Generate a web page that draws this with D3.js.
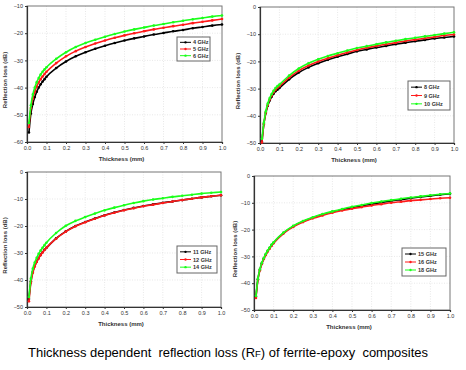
<!DOCTYPE html>
<html>
  <head>
    <meta charset="utf-8" />
    <title>Reflection loss</title>
    <script src="https://d3js.org/d3.v7.min.js"></script>
    <style>
      body { margin: 0; background: #fff; }
      text { font-family: "Liberation Sans", Arial, sans-serif; }
    </style>
  </head>
  <body>
    <div id="chart"></div>
    <script>
      // thickness (mm) where values were read
      var thickness = [0.01, 0.02, 0.03, 0.04, 0.05, 0.06, 0.07, 0.08, 0.09, 0.1,
        0.15, 0.2, 0.25, 0.3, 0.35, 0.4, 0.45, 0.5, 0.55, 0.6, 0.65, 0.7, 0.75,
        0.8, 0.85, 0.9, 0.95, 1.0];

      // panel 1
      var rl4 = [-56.5, -49.5, -46, -43.5, -41.5, -40, -38.8, -37.8, -36.9, -36, -32.8, -30.4, -28.5, -27, -25.7, -24.6, -23.6, -22.7, -21.9, -21.2, -20.5, -19.9, -19.3, -18.8, -18.2, -17.7, -17.2, -16.8];
      var rl5 = [-54.5, -47.5, -44, -41.5, -39.6, -38.1, -36.9, -35.9, -35, -34.2, -31, -28.5, -26.6, -25.1, -23.8, -22.7, -21.7, -20.8, -20, -19.3, -18.6, -18, -17.4, -16.9, -16.3, -15.8, -15.3, -14.8];
      var rl6 = [-53, -46.5, -42.5, -40, -38, -36.5, -35.2, -34.2, -33.3, -32.5, -29.4, -27, -25.1, -23.6, -22.4, -21.3, -20.3, -19.4, -18.6, -17.9, -17.2, -16.6, -16, -15.4, -14.9, -14.4, -13.9, -13.5];
      // panel 2
      var rl8 = [-49.6, -43, -39, -36.3, -34.4, -33, -31.9, -31, -30.4, -29.8, -26.6, -24.1, -22.2, -20.7, -19.4, -18.3, -17.3, -16.3, -15.6, -14.9, -14.3, -13.7, -13.1, -12.6, -12.1, -11.6, -11.2, -10.8];
      var rl9 = [-49.8, -43, -38.8, -36, -34, -32.5, -31.3, -30.4, -29.7, -29.1, -26, -23.4, -21.5, -20, -18.8, -17.7, -16.7, -15.8, -15, -14.3, -13.7, -13.1, -12.5, -12, -11.5, -11, -10.5, -10.1];
      var rl10 = [-48.4, -42.5, -38.3, -35.5, -33.5, -32, -30.8, -29.8, -29.1, -28.5, -25.2, -22.6, -20.7, -19.2, -18, -17, -16, -15.1, -14.4, -13.7, -13, -12.4, -11.8, -11.3, -10.8, -10.3, -9.8, -9.3];
      // panel 3
      var rl11 = [-47, -40.5, -37, -34.8, -33.2, -31.9, -30.7, -29.7, -28.8, -28.1, -24.6, -22, -20, -18.5, -17.2, -16, -15, -14.1, -13.3, -12.6, -12, -11.4, -10.9, -10.4, -9.9, -9.4, -9, -8.6];
      var rl12 = [-47.9, -41, -37.3, -35, -33.3, -32, -30.8, -29.8, -28.9, -28.1, -24.7, -22.1, -20.1, -18.6, -17.3, -16.1, -15.1, -14.2, -13.4, -12.7, -12.1, -11.5, -10.9, -10.4, -9.9, -9.4, -9, -8.6];
      var rl14 = [-46.3, -39.5, -35.8, -33.5, -31.8, -30.3, -29.1, -28.1, -27.1, -26.2, -22.6, -19.9, -18.1, -16.7, -15.4, -14.2, -13.2, -12.3, -11.5, -10.8, -10.2, -9.7, -9.2, -8.8, -8.4, -8, -7.7, -7.4];
      // panel 4
      var rl15 = [-45, -38.5, -35, -32.6, -30.8, -29.3, -28, -26.9, -25.8, -24.9, -21.3, -18.8, -17, -15.6, -14.4, -13.4, -12.6, -11.8, -11.1, -10.5, -9.9, -9.3, -8.8, -8.3, -7.8, -7.4, -7, -6.6];
      var rl16 = [-45.5, -38.8, -35.2, -32.8, -31, -29.5, -28.2, -27.1, -26, -25.1, -21.5, -19, -17.2, -15.8, -14.7, -13.7, -12.9, -12.2, -11.6, -11, -10.5, -10, -9.6, -9.2, -8.9, -8.6, -8.3, -8.1];
      var rl18 = [-44.8, -38.3, -34.8, -32.4, -30.6, -29.1, -27.8, -26.7, -25.6, -24.7, -21.1, -18.6, -16.8, -15.4, -14.2, -13.2, -12.3, -11.5, -10.8, -10.1, -9.5, -9, -8.5, -8, -7.6, -7.2, -6.8, -6.5];

      var legend1 = ["4 GHz", "5 GHz", "6 GHz"];
      var legend2 = ["8 GHz", "9 GHz", "10 GHz"];
      var legend3 = ["11 GHz", "12 GHz", "14 GHz"];
      var legend4 = ["15 GHz", "16 GHz", "18 GHz"];

      var xTicks = [0, 0.1, 0.2, 0.3, 0.4, 0.5, 0.6, 0.7, 0.8, 0.9, 1.0];
      var yTicks1 = [-60, -50, -40, -30, -20, -10];
      var yTicks = [-50, -40, -30, -20, -10, 0];

      var colors = ["#000000", "#ff1a1a", "#1aff1a"];

      var panels = [
        { series: [rl4, rl5, rl6], names: legend1, yDomain: [-60, -10], yTicks: yTicks1,
          left: 27, right: 222, top: 6, bottom: 142, legend: [177, 37, 33, 24], yTitleX: 7 },
        { series: [rl8, rl9, rl10], names: legend2, yDomain: [-50, 0], yTicks: yTicks,
          left: 260, right: 454, top: 7, bottom: 143, legend: [408, 81, 42, 29], yTitleX: 240 },
        { series: [rl11, rl12, rl14], names: legend3, yDomain: [-50, 0], yTicks: yTicks,
          left: 27, right: 221, top: 172, bottom: 307, legend: [177, 246, 40, 27], yTitleX: 7 },
        { series: [rl15, rl16, rl18], names: legend4, yDomain: [-50, 0], yTicks: yTicks,
          left: 254, right: 450, top: 176, bottom: 310, legend: [402, 248, 44, 28], yTitleX: 237 }
      ];

      var svg = d3.select("#chart").append("svg")
        .attr("width", 466).attr("height", 370)
        .style("background", "#fff");

      panels.forEach(function (p) {
        var x = d3.scaleLinear().domain([0, 1]).range([p.left, p.right]);
        var y = d3.scaleLinear().domain(p.yDomain).range([p.bottom, p.top]);
        var g = svg.append("g");

        // grid
        g.selectAll(".vg").data(xTicks.slice(1, -1)).enter().append("line")
          .attr("x1", function (d) { return x(d); }).attr("x2", function (d) { return x(d); })
          .attr("y1", p.top).attr("y2", p.bottom)
          .attr("stroke", "#d8d8d8").attr("stroke-width", 0.6).attr("stroke-dasharray", "1,1.5");
        g.selectAll(".hg").data(p.yTicks.slice(1, -1)).enter().append("line")
          .attr("y1", function (d) { return y(d); }).attr("y2", function (d) { return y(d); })
          .attr("x1", p.left).attr("x2", p.right)
          .attr("stroke", "#d8d8d8").attr("stroke-width", 0.6).attr("stroke-dasharray", "1,1.5");

        // frame
        g.append("rect").attr("x", p.left).attr("y", p.top)
          .attr("width", p.right - p.left).attr("height", p.bottom - p.top)
          .attr("fill", "none").attr("stroke", "#777").attr("stroke-width", 1);

        var xAxis = g.append("g").attr("transform", "translate(0," + p.bottom + ")")
          .call(d3.axisBottom(x).tickValues(xTicks).tickFormat(d3.format(".1f")).tickSize(2).tickPadding(2));
        var yAxis = g.append("g").attr("transform", "translate(" + p.left + ",0)")
          .call(d3.axisLeft(y).tickValues(p.yTicks).tickFormat(d3.format("d")).tickSize(2).tickPadding(2));
        [xAxis, yAxis].forEach(function (a) {
          a.select(".domain").attr("stroke", "#333").attr("stroke-width", 1.2);
          a.selectAll(".tick line").attr("stroke", "#333");
          a.selectAll(".tick text").attr("font-size", 5.5).attr("fill", "#333")
            .attr("font-family", "Liberation Sans, Arial, sans-serif");
        });

        // axis titles
        g.append("text").attr("x", (p.left + p.right) / 2 - 3).attr("y", p.bottom + 19)
          .attr("text-anchor", "middle").attr("font-size", 6).attr("font-weight", "bold")
          .attr("fill", "#333").text("Thickness (mm)");
        g.append("text")
          .attr("transform", "translate(" + p.yTitleX + "," + ((p.top + p.bottom) / 2 + 6) + ") rotate(-90)")
          .attr("text-anchor", "middle").attr("font-size", 6).attr("font-weight", "bold")
          .attr("fill", "#333").text("Reflection loss (dB)");

        // series
        var line = d3.line()
          .x(function (d, i) { return x(thickness[i]); })
          .y(function (d) { return y(d); })
          .curve(d3.curveMonotoneX);
        p.series.forEach(function (s, k) {
          g.append("path").datum(s).attr("d", line)
            .attr("fill", "none").attr("stroke", colors[k]).attr("stroke-width", 1.6);
          g.selectAll(".m" + k).data(s).enter().append("circle")
            .attr("cx", function (d, i) { return x(thickness[i]); })
            .attr("cy", function (d) { return y(d); })
            .attr("r", 1.3).attr("fill", colors[k]);
        });

        // legend
        var lg = g.append("g").attr("transform", "translate(" + p.legend[0] + "," + p.legend[1] + ")");
        lg.append("rect").attr("width", p.legend[2]).attr("height", p.legend[3])
          .attr("fill", "#fff").attr("stroke", "#666").attr("stroke-width", 1);
        var rowH = (p.legend[3] - 4) / 3;
        p.names.forEach(function (n, k) {
          var ry = 2 + rowH * (k + 0.5);
          lg.append("line").attr("x1", 3).attr("x2", 14).attr("y1", ry).attr("y2", ry)
            .attr("stroke", colors[k]).attr("stroke-width", 1);
          lg.append("circle").attr("cx", 8.5).attr("cy", ry).attr("r", 1.2).attr("fill", colors[k]);
          lg.append("text").attr("x", 16).attr("y", ry + 2)
            .attr("font-size", 5.5).attr("font-weight", "bold").attr("fill", "#333").text(n);
        });
      });

      // caption (double spaces kept as in the original)
      var cap = svg.append("text").attr("x", 28).attr("y", 357)
        .attr("font-size", 13).attr("fill", "#000")
        .style("white-space", "pre")
        .attr("textLength", 400).attr("lengthAdjust", "spacingAndGlyphs");
      cap.append("tspan").text("Thickness dependent  reflection loss (R");
      cap.append("tspan").attr("font-size", 9.5).text("F");
      cap.append("tspan").text(") of ferrite-epoxy  composites");
    </script>
  </body>
</html>
